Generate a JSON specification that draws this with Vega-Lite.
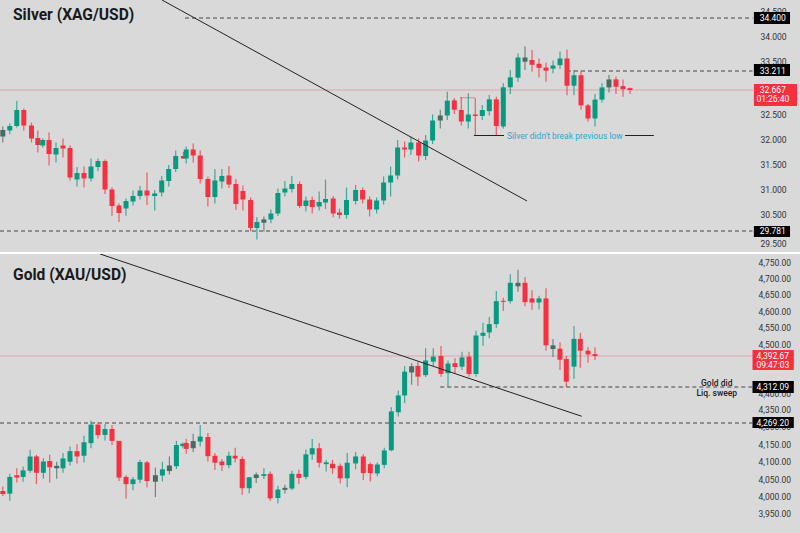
{
  "$schema": "https://vega.github.io/schema/vega-lite/v6.json",
  "padding": 0,
  "spacing": 2,
  "background": "#ffffff",
  "config": {
    "view": {"stroke": null, "fill": "#d9d9d9"},
    "text": {"font": "Roboto"},
    "axisY": {"title": null, "grid": false, "domain": false, "ticks": false}
  },
  "datasets": {
    "silver": [
      {"bar":0.4,"h":32.25,"o":32.18,"c":32.05,"l":31.93,"kind":"mixed"},
      {"bar":1.4,"h":32.31,"o":32.17,"c":32.26,"l":32.10,"kind":"up"},
      {"bar":2.4,"h":32.593,"o":32.26,"c":32.528,"l":32.23,"kind":"up"},
      {"bar":3.4,"h":32.539,"o":32.528,"c":32.27,"l":32.17,"kind":"down"},
      {"bar":4.5,"h":32.33,"o":32.27,"c":32.01,"l":31.93,"kind":"down"},
      {"bar":5.4,"h":32.17,"o":32.02,"c":31.88,"l":31.73,"kind":"down"},
      {"bar":6.1,"h":32.01,"o":31.87,"c":31.98,"l":31.83,"kind":"up"},
      {"bar":7.0,"h":32.13,"o":31.98,"c":31.70,"l":31.47,"kind":"down"},
      {"bar":8.0,"h":31.93,"o":31.69,"c":31.82,"l":31.53,"kind":"up"},
      {"bar":9.0,"h":32.01,"o":31.87,"c":31.81,"l":31.63,"kind":"down"},
      {"bar":10.0,"h":31.87,"o":31.82,"c":31.23,"l":31.17,"kind":"down"},
      {"bar":11.0,"h":31.44,"o":31.19,"c":31.32,"l":31.05,"kind":"up"},
      {"bar":12.0,"h":31.45,"o":31.32,"c":31.21,"l":31.03,"kind":"down"},
      {"bar":13.0,"h":31.61,"o":31.21,"c":31.45,"l":31.15,"kind":"up"},
      {"bar":14.0,"h":31.61,"o":31.44,"c":31.56,"l":31.36,"kind":"up"},
      {"bar":15.0,"h":31.59,"o":31.56,"c":30.99,"l":30.90,"kind":"down"},
      {"bar":16.0,"h":31.03,"o":30.99,"c":30.66,"l":30.43,"kind":"down"},
      {"bar":17.0,"h":30.71,"o":30.67,"c":30.52,"l":30.16,"kind":"down"},
      {"bar":18.0,"h":30.81,"o":30.61,"c":30.76,"l":30.43,"kind":"up"},
      {"bar":19.0,"h":30.97,"o":30.75,"c":30.86,"l":30.67,"kind":"up"},
      {"bar":20.0,"h":31.06,"o":30.86,"c":30.97,"l":30.79,"kind":"up"},
      {"bar":21.0,"h":31.33,"o":30.97,"c":30.87,"l":30.68,"kind":"down"},
      {"bar":22.1,"h":30.98,"o":30.86,"c":30.91,"l":30.57,"kind":"up"},
      {"bar":23.1,"h":31.26,"o":30.93,"c":31.17,"l":30.85,"kind":"up"},
      {"bar":24.1,"h":31.48,"o":31.16,"c":31.40,"l":31.05,"kind":"up"},
      {"bar":25.1,"h":31.77,"o":31.40,"c":31.66,"l":31.34,"kind":"up"},
      {"bar":26.2,"h":31.74,"o":31.66,"c":31.61,"l":31.61,"kind":"down"},
      {"bar":26.6,"h":31.85,"o":31.61,"c":31.79,"l":31.51,"kind":"up"},
      {"bar":27.6,"h":31.91,"o":31.79,"c":31.67,"l":31.53,"kind":"down"},
      {"bar":28.6,"h":31.77,"o":31.67,"c":31.20,"l":31.11,"kind":"down"},
      {"bar":29.7,"h":31.25,"o":31.20,"c":30.84,"l":30.65,"kind":"down"},
      {"bar":30.7,"h":31.40,"o":30.84,"c":31.17,"l":30.71,"kind":"up"},
      {"bar":31.7,"h":31.40,"o":31.15,"c":31.26,"l":31.01,"kind":"up"},
      {"bar":32.7,"h":31.46,"o":31.27,"c":31.09,"l":31.02,"kind":"down"},
      {"bar":33.7,"h":31.20,"o":31.10,"c":30.70,"l":30.58,"kind":"down"},
      {"bar":34.7,"h":31.07,"o":30.96,"c":30.79,"l":30.57,"kind":"down"},
      {"bar":35.8,"h":30.83,"o":30.78,"c":29.91,"l":29.77,"kind":"down"},
      {"bar":36.7,"h":30.37,"o":29.91,"c":30.16,"l":29.58,"kind":"up"},
      {"bar":37.7,"h":30.39,"o":30.13,"c":30.27,"l":29.77,"kind":"mixed"},
      {"bar":38.7,"h":30.59,"o":30.27,"c":30.51,"l":30.11,"kind":"up"},
      {"bar":39.7,"h":31.01,"o":30.51,"c":30.92,"l":30.42,"kind":"up"},
      {"bar":40.7,"h":31.16,"o":30.93,"c":31.01,"l":30.85,"kind":"up"},
      {"bar":41.7,"h":31.26,"o":31.00,"c":31.10,"l":30.93,"kind":"up"},
      {"bar":42.8,"h":31.15,"o":31.10,"c":30.66,"l":30.62,"kind":"down"},
      {"bar":43.7,"h":30.85,"o":30.66,"c":30.77,"l":30.55,"kind":"up"},
      {"bar":44.6,"h":30.85,"o":30.78,"c":30.64,"l":30.51,"kind":"down"},
      {"bar":45.6,"h":30.95,"o":30.65,"c":30.74,"l":30.57,"kind":"up"},
      {"bar":46.5,"h":31.19,"o":30.73,"c":30.80,"l":30.60,"kind":"up"},
      {"bar":47.6,"h":30.86,"o":30.81,"c":30.51,"l":30.36,"kind":"down"},
      {"bar":48.5,"h":30.61,"o":30.53,"c":30.46,"l":30.30,"kind":"down"},
      {"bar":49.5,"h":31.03,"o":30.46,"c":30.78,"l":30.30,"kind":"up"},
      {"bar":50.8,"h":31.08,"o":30.76,"c":30.98,"l":30.69,"kind":"up"},
      {"bar":51.8,"h":31.03,"o":30.98,"c":30.79,"l":30.71,"kind":"down"},
      {"bar":52.8,"h":30.85,"o":30.79,"c":30.59,"l":30.39,"kind":"down"},
      {"bar":53.8,"h":30.83,"o":30.59,"c":30.77,"l":30.51,"kind":"up"},
      {"bar":54.8,"h":31.25,"o":30.77,"c":31.13,"l":30.69,"kind":"up"},
      {"bar":55.8,"h":31.45,"o":31.13,"c":31.27,"l":30.85,"kind":"up"},
      {"bar":56.8,"h":31.98,"o":31.27,"c":31.83,"l":31.19,"kind":"up"},
      {"bar":57.8,"h":31.95,"o":31.83,"c":31.79,"l":31.63,"kind":"down"},
      {"bar":58.7,"h":32.05,"o":31.79,"c":31.93,"l":31.68,"kind":"up"},
      {"bar":59.8,"h":32.01,"o":31.93,"c":31.67,"l":31.55,"kind":"down"},
      {"bar":60.8,"h":32.08,"o":31.66,"c":31.97,"l":31.58,"kind":"up"},
      {"bar":61.8,"h":32.49,"o":31.97,"c":32.37,"l":31.90,"kind":"up"},
      {"bar":62.9,"h":32.53,"o":32.47,"c":32.37,"l":32.21,"kind":"mixed"},
      {"bar":63.9,"h":32.655,"o":32.47,"c":32.593,"l":32.38,"kind":"up"},
      {"bar":64.9,"h":32.609,"o":32.595,"c":32.53,"l":32.50,"kind":"down"},
      {"bar":65.9,"h":32.616,"o":32.528,"c":32.35,"l":32.27,"kind":"down"},
      {"bar":66.9,"h":32.644,"o":32.35,"c":32.49,"l":32.21,"kind":"up"},
      {"bar":67.9,"h":32.609,"o":32.49,"c":32.46,"l":32.08,"kind":"down"},
      {"bar":68.9,"h":32.563,"o":32.46,"c":32.528,"l":32.38,"kind":"up"},
      {"bar":69.9,"h":32.632,"o":32.52,"c":32.602,"l":32.47,"kind":"up"},
      {"bar":70.9,"h":32.62,"o":32.602,"c":32.26,"l":32.08,"kind":"down"},
      {"bar":71.9,"h":32.858,"o":32.25,"c":32.744,"l":32.21,"kind":"up"},
      {"bar":72.9,"h":33.24,"o":32.744,"c":33.03,"l":32.639,"kind":"up"},
      {"bar":74,"h":33.65,"o":33.02,"c":33.57,"l":32.906,"kind":"up"},
      {"bar":75,"h":33.79,"o":33.48,"c":33.57,"l":33.24,"kind":"mixed"},
      {"bar":76,"h":33.72,"o":33.52,"c":33.39,"l":33.19,"kind":"down"},
      {"bar":77,"h":33.55,"o":33.42,"c":33.30,"l":33.03,"kind":"down"},
      {"bar":78,"h":33.45,"o":33.31,"c":33.22,"l":32.90,"kind":"down"},
      {"bar":79,"h":33.51,"o":33.28,"c":33.37,"l":33.15,"kind":"up"},
      {"bar":80,"h":33.69,"o":33.38,"c":33.55,"l":33.27,"kind":"up"},
      {"bar":81,"h":33.73,"o":33.55,"c":32.79,"l":32.63,"kind":"down"},
      {"bar":82,"h":33.24,"o":32.79,"c":33.09,"l":32.63,"kind":"up"},
      {"bar":83,"h":33.22,"o":33.09,"c":32.56,"l":32.53,"kind":"down"},
      {"bar":84,"h":32.57,"o":32.56,"c":32.41,"l":32.35,"kind":"down"},
      {"bar":85,"h":32.64,"o":32.41,"c":32.60,"l":32.25,"kind":"up"},
      {"bar":86,"h":32.86,"o":32.60,"c":32.74,"l":32.58,"kind":"up"},
      {"bar":87,"h":33.10,"o":32.74,"c":32.97,"l":32.65,"kind":"mixed"},
      {"bar":88,"h":33.05,"o":32.97,"c":32.76,"l":32.64,"kind":"down"},
      {"bar":89,"h":32.97,"o":32.78,"c":32.69,"l":32.62,"kind":"down"},
      {"bar":90,"h":32.74,"o":32.72,"c":32.667,"l":32.64,"kind":"down"}
    ],
    "gold": [
      {"bar":0.4,"h":4028,"o":4015,"c":4006,"l":4000,"kind":"down"},
      {"bar":1.4,"h":4065,"o":4007,"c":4056,"l":3986,"kind":"up"},
      {"bar":2.4,"h":4081,"o":4061,"c":4054,"l":4040,"kind":"down"},
      {"bar":3.3,"h":4086,"o":4056,"c":4075,"l":4042,"kind":"up"},
      {"bar":4.3,"h":4152,"o":4074,"c":4123,"l":4068,"kind":"up"},
      {"bar":5.2,"h":4130,"o":4123,"c":4068,"l":4035,"kind":"down"},
      {"bar":6.2,"h":4115,"o":4068,"c":4101,"l":4051,"kind":"up"},
      {"bar":7.1,"h":4130,"o":4103,"c":4084,"l":4040,"kind":"down"},
      {"bar":8.1,"h":4100,"o":4081,"c":4088,"l":4051,"kind":"mixed"},
      {"bar":9.0,"h":4138,"o":4081,"c":4114,"l":4068,"kind":"up"},
      {"bar":10,"h":4167,"o":4100,"c":4146,"l":4089,"kind":"up"},
      {"bar":11,"h":4176,"o":4146,"c":4123,"l":4095,"kind":"down"},
      {"bar":12,"h":4214,"o":4126,"c":4185,"l":4098,"kind":"up"},
      {"bar":13,"h":4272,"o":4181,"c":4262,"l":4159,"kind":"up"},
      {"bar":14,"h":4270,"o":4262,"c":4216,"l":4201,"kind":"down"},
      {"bar":15,"h":4265,"o":4217,"c":4243,"l":4193,"kind":"up"},
      {"bar":16,"h":4260,"o":4243,"c":4191,"l":4173,"kind":"down"},
      {"bar":17,"h":4191,"o":4191,"c":4054,"l":4044,"kind":"down"},
      {"bar":18,"h":4061,"o":4056,"c":4035,"l":3993,"kind":"down"},
      {"bar":19,"h":4056,"o":4035,"c":4049,"l":4017,"kind":"up"},
      {"bar":20,"h":4108,"o":4048,"c":4099,"l":4038,"kind":"up"},
      {"bar":21,"h":4103,"o":4098,"c":4044,"l":4026,"kind":"down"},
      {"bar":22.2,"h":4083,"o":4042,"c":4061,"l":3997,"kind":"mixed"},
      {"bar":23.2,"h":4100,"o":4060,"c":4078,"l":4043,"kind":"up"},
      {"bar":24.2,"h":4123,"o":4073,"c":4089,"l":4063,"kind":"mixed"},
      {"bar":25.2,"h":4191,"o":4087,"c":4173,"l":4079,"kind":"up"},
      {"bar":26.1,"h":4184,"o":4169,"c":4178,"l":4161,"kind":"up"},
      {"bar":26.6,"h":4199,"o":4182,"c":4156,"l":4135,"kind":"down"},
      {"bar":27.6,"h":4222,"o":4159,"c":4190,"l":4142,"kind":"mixed"},
      {"bar":28.6,"h":4260,"o":4188,"c":4210,"l":4167,"kind":"up"},
      {"bar":29.7,"h":4226,"o":4208,"c":4124,"l":4101,"kind":"down"},
      {"bar":30.7,"h":4138,"o":4126,"c":4097,"l":4076,"kind":"down"},
      {"bar":31.7,"h":4112,"o":4101,"c":4090,"l":4073,"kind":"down"},
      {"bar":32.7,"h":4144,"o":4090,"c":4126,"l":4081,"kind":"up"},
      {"bar":33.6,"h":4161,"o":4126,"c":4114,"l":4098,"kind":"down"},
      {"bar":34.6,"h":4123,"o":4112,"c":4023,"l":4004,"kind":"down"},
      {"bar":35.6,"h":4056,"o":4023,"c":4055,"l":4008,"kind":"up"},
      {"bar":36.6,"h":4069,"o":4053,"c":4063,"l":4038,"kind":"mixed"},
      {"bar":37.7,"h":4081,"o":4059,"c":4064,"l":4050,"kind":"up"},
      {"bar":38.6,"h":4072,"o":4065,"c":3993,"l":3986,"kind":"down"},
      {"bar":39.7,"h":4030,"o":3994,"c":4019,"l":3978,"kind":"up"},
      {"bar":40.7,"h":4033,"o":4018,"c":4024,"l":4007,"kind":"mixed"},
      {"bar":41.7,"h":4074,"o":4022,"c":4065,"l":4017,"kind":"up"},
      {"bar":42.7,"h":4077,"o":4065,"c":4053,"l":4035,"kind":"down"},
      {"bar":43.7,"h":4153,"o":4056,"c":4132,"l":4049,"kind":"up"},
      {"bar":44.6,"h":4199,"o":4132,"c":4159,"l":4108,"kind":"up"},
      {"bar":45.6,"h":4182,"o":4159,"c":4097,"l":4083,"kind":"down"},
      {"bar":46.6,"h":4108,"o":4093,"c":4098,"l":4072,"kind":"up"},
      {"bar":47.5,"h":4108,"o":4094,"c":4081,"l":4065,"kind":"down"},
      {"bar":48.6,"h":4095,"o":4088,"c":4052,"l":4037,"kind":"down"},
      {"bar":49.6,"h":4138,"o":4052,"c":4097,"l":4026,"kind":"up"},
      {"bar":50.8,"h":4142,"o":4095,"c":4123,"l":4078,"kind":"up"},
      {"bar":51.9,"h":4133,"o":4123,"c":4067,"l":4047,"kind":"down"},
      {"bar":52.9,"h":4098,"o":4093,"c":4067,"l":4043,"kind":"down"},
      {"bar":53.9,"h":4098,"o":4066,"c":4092,"l":4058,"kind":"up"},
      {"bar":54.9,"h":4161,"o":4091,"c":4149,"l":4081,"kind":"up"},
      {"bar":55.9,"h":4288,"o":4150,"c":4283,"l":4146,"kind":"up"},
      {"bar":56.9,"h":4308,"o":4282,"c":4302,"l":4277,"kind":"up"},
      {"bar":57.8,"h":4367,"o":4302,"c":4352,"l":4293,"kind":"up"},
      {"bar":58.8,"h":4374,"o":4350,"c":4366,"l":4318,"kind":"mixed"},
      {"bar":59.7,"h":4378,"o":4367,"c":4339,"l":4315,"kind":"down"},
      {"bar":60.8,"h":4461,"o":4343,"c":4381,"l":4338,"kind":"up"},
      {"bar":61.9,"h":4461,"o":4378,"c":4391,"l":4367,"kind":"up"},
      {"bar":63,"h":4482,"o":4392.67,"c":4346,"l":4339,"kind":"down"},
      {"bar":64,"h":4381,"o":4348,"c":4373,"l":4312,"kind":"up"},
      {"bar":65,"h":4387,"o":4374,"c":4364,"l":4348,"kind":"down"},
      {"bar":66,"h":4431,"o":4365,"c":4389,"l":4356,"kind":"up"},
      {"bar":67,"h":4431,"o":4391,"c":4346,"l":4339,"kind":"down"},
      {"bar":68,"h":4539,"o":4346,"c":4525,"l":4339,"kind":"up"},
      {"bar":69,"h":4563,"o":4524,"c":4533,"l":4485,"kind":"up"},
      {"bar":69.9,"h":4581,"o":4534,"c":4559,"l":4517,"kind":"up"},
      {"bar":70.9,"h":4659,"o":4559,"c":4629,"l":4548,"kind":"up"},
      {"bar":71.9,"h":4639,"o":4630,"c":4627,"l":4600,"kind":"down"},
      {"bar":72.9,"h":4712,"o":4629,"c":4685,"l":4622,"kind":"up"},
      {"bar":74,"h":4726,"o":4685,"c":4674,"l":4657,"kind":"mixed"},
      {"bar":75,"h":4703,"o":4685,"c":4626,"l":4614,"kind":"down"},
      {"bar":76,"h":4662,"o":4637,"c":4625,"l":4604,"kind":"down"},
      {"bar":77,"h":4645,"o":4625,"c":4637,"l":4605,"kind":"up"},
      {"bar":78,"h":4668,"o":4637,"c":4488,"l":4440,"kind":"down"},
      {"bar":79,"h":4515,"o":4488,"c":4455,"l":4390,"kind":"mixed"},
      {"bar":80,"h":4505,"o":4458,"c":4383,"l":4356,"kind":"down"},
      {"bar":80.9,"h":4393,"o":4385,"c":4326,"l":4312,"kind":"down"},
      {"bar":82,"h":4553,"o":4365,"c":4515,"l":4333,"kind":"up"},
      {"bar":82.9,"h":4532,"o":4515,"c":4440,"l":4362,"kind":"down"},
      {"bar":84,"h":4470,"o":4440,"c":4407,"l":4375,"kind":"down"},
      {"bar":85,"h":4470,"o":4410,"c":4392.67,"l":4382,"kind":"down"}
    ],
    "silverTrend": [
      {"bar":23.14,"price":34.66},
      {"bar":26,"price":34.5},
      {"bar":27.81,"price":34.4},
      {"bar":32.49,"price":34.0},
      {"bar":38.97,"price":33.5},
      {"bar":41.57,"price":33.211},
      {"bar":46.5,"price":32.667},
      {"bar":52.71,"price":32.5},
      {"bar":75.29,"price":30.76}
    ],
    "goldTrend": [
      {"bar":14.29,"price":4774.4},
      {"bar":52.43,"price":4500},
      {"bar":57.53,"price":4392.67},
      {"bar":70.67,"price":4312.09},
      {"bar":83.1,"price":4277.2}
    ],
    "silverLevels": [
      {"bar":26.43,"to":107.5,"price":34.4},
      {"bar":81,"to":107.5,"price":33.211},
      {"bar":0,"to":107.5,"price":29.781}
    ],
    "goldLevels": [
      {"bar":62.9,"to":107.5,"price":4312.09},
      {"bar":0,"to":107.5,"price":4269.2}
    ],
    "silverNow": [{"bar":0,"to":107.5,"price":32.667}],
    "goldNow": [{"bar":0,"to":107.5,"price":4392.67}],
    "silverLow": [
      {"bar":67.7,"to":72,"price":32.07},
      {"bar":89.3,"to":93.4,"price":32.07}
    ],
    "silverBracket": [{"bar":65.7,"to":67.9,"price":32.613}],
    "silverTags": [
      {"bar":107.7,"to":112.86,"top":34.486,"bottom":34.267,"kind":"level"},
      {"bar":107.7,"to":112.86,"top":33.413,"bottom":33.068,"kind":"level"},
      {"bar":107.7,"to":113.86,"top":32.839,"bottom":32.556,"kind":"down"},
      {"bar":107.7,"to":112.86,"top":29.992,"bottom":29.64,"kind":"level"}
    ],
    "goldTags": [
      {"bar":107.5,"to":113.4,"top":4446,"bottom":4356.3,"kind":"down"},
      {"bar":107.5,"to":113.4,"top":4327.7,"bottom":4305,"kind":"level"},
      {"bar":107.5,"to":113.4,"top":4276.4,"bottom":4247.4,"kind":"level"}
    ],
    "silverTagText": [
      {"bar":110.4,"price":34.4,"text":"34.400"},
      {"bar":110.4,"price":33.211,"text":"33.211"},
      {"bar":110.4,"price":32.667,"text":"32.667"},
      {"bar":110.4,"price":32.604,"text":"01:26:40"},
      {"bar":110.4,"price":29.781,"text":"29.781"}
    ],
    "goldTagText": [
      {"bar":110.4,"price":4392.67,"text":"4,392.67"},
      {"bar":110.4,"price":4369,"text":"09:47:03"},
      {"bar":110.4,"price":4312.09,"text":"4,312.09"},
      {"bar":110.4,"price":4269.2,"text":"4,269.20"}
    ],
    "silverName": [{"bar":1.86,"price":34.44,"text":"Silver (XAG/USD)"}],
    "goldName": [{"bar":1.86,"price":4710,"text":"Gold (XAU/USD)"}],
    "silverNote": [{"bar":72.43,"price":32.07,"text":"Silver didn't break previous low"}],
    "goldNote": [
      {"bar":102.4,"price":4322.5,"text":"Gold did"},
      {"bar":102.4,"price":4305,"text":"Liq. sweep"}
    ]
  },
  "vconcat": [
    {
      "width": 800,
      "height": 252,
      "encoding": {
        "x": {"field": "bar", "type": "quantitative", "axis": null, "scale": {"domain": [0, 114.2857], "nice": false, "zero": false, "padding": 0}},
        "y": {
          "field": "price",
          "type": "quantitative",
          "scale": {
            "domain": [29.29, 29.5, 29.781, 30.5, 32.5, 32.667, 33.211, 33.5, 34, 34.4, 34.5, 34.66],
            "range": [252, 243, 231, 214, 114, 90, 71, 61, 36, 18, 11, 0],
            "nice": false,
            "zero": false,
            "padding": 0
          },
          "axis": {
            "orient": "right",
            "values": [34.5, 34, 33.5, 32.5, 32, 31.5, 31, 30.5, 29.5],
            "format": ".3f",
            "offset": -40,
            "labelPadding": 0,
            "labelFont": "Roboto",
            "labelFontSize": 8.5,
            "labelColor": "#333333"
          }
        }
      },
      "layer": [
        {"data": {"name": "silverNow"}, "mark": {"type": "rule", "clip": true, "color": "#f23645", "opacity": 0.55, "strokeWidth": 0.6}, "encoding": {"x2": {"field": "to"}}},
        {"data": {"name": "silverLevels"}, "mark": {"type": "rule", "clip": true, "color": "#444444", "strokeWidth": 1, "strokeDash": [4, 3]}, "encoding": {"x2": {"field": "to"}}},
        {"data": {"name": "silverBracket"}, "mark": {"type": "rule", "clip": true, "color": "#c98b8b", "strokeWidth": 1}, "encoding": {"x2": {"field": "to"}}},
        {
          "data": {"name": "silver"},
          "mark": {"type": "rule", "clip": true, "strokeWidth": 1.2, "opacity": 0.75},
          "encoding": {
            "y": {"field": "h", "type": "quantitative"},
            "y2": {"field": "l"},
            "color": {"field": "kind", "type": "nominal", "legend": null, "scale": {"domain": ["up", "down", "mixed", "level"], "range": ["#089981", "#f7303f", "#4a6b64", "#000000"]}}
          }
        },
        {
          "data": {"name": "silver"},
          "mark": {"type": "bar", "clip": true, "size": 5},
          "encoding": {
            "y": {"field": "o", "type": "quantitative"},
            "y2": {"field": "c"},
            "color": {"field": "kind", "type": "nominal", "legend": null}
          }
        },
        {"data": {"name": "silverTrend"}, "mark": {"type": "line", "clip": true, "color": "#222222", "strokeWidth": 1}},
        {"data": {"name": "silverLow"}, "mark": {"type": "rule", "clip": true, "color": "#222222", "strokeWidth": 1}, "encoding": {"x2": {"field": "to"}}},
        {"data": {"name": "silverNote"}, "mark": {"type": "text", "align": "left", "baseline": "middle", "fontSize": 8.5, "color": "#2aa9d0"}, "encoding": {"text": {"field": "text"}}},
        {"data": {"name": "silverName"}, "mark": {"type": "text", "align": "left", "baseline": "middle", "fontSize": 15.6, "fontWeight": "bold", "color": "#1a1a1a"}, "encoding": {"text": {"field": "text"}}},
        {
          "data": {"name": "silverTags"},
          "mark": {"type": "rect"},
          "encoding": {
            "x2": {"field": "to"},
            "y": {"field": "top", "type": "quantitative"},
            "y2": {"field": "bottom"},
            "color": {"field": "kind", "type": "nominal", "legend": null}
          }
        },
        {"data": {"name": "silverTagText"}, "mark": {"type": "text", "baseline": "middle", "fontSize": 8.5, "color": "#ffffff"}, "encoding": {"text": {"field": "text"}}}
      ]
    },
    {
      "width": 800,
      "height": 279,
      "encoding": {
        "x": {"field": "bar", "type": "quantitative", "axis": null, "scale": {"domain": [0, 114.2857], "nice": false, "zero": false, "padding": 0}},
        "y": {
          "field": "price",
          "type": "quantitative",
          "scale": {
            "domain": [3891, 3950, 4000, 4050, 4100, 4269.2, 4312.09, 4392.67, 4500, 4550, 4600, 4650, 4700, 4750, 4774.4],
            "range": [279, 259, 242, 225, 207.7, 169, 133, 102, 90, 73, 57, 40, 24, 8, 0],
            "nice": false,
            "zero": false,
            "padding": 0
          },
          "axis": {
            "orient": "right",
            "values": [4750, 4700, 4650, 4600, 4550, 4500, 4304, 4285, 4252, 4177, 4100, 4050, 4000, 3950],
            "labelExpr": "datum.value == 4304 ? '4,400.00' : datum.value == 4285 ? '4,350.00' : datum.value == 4252 ? '4,300.00' : datum.value == 4177 ? '4,150.00' : format(datum.value, ',.2f')",
            "offset": -42,
            "labelPadding": 0,
            "labelFont": "Roboto",
            "labelFontSize": 8.5,
            "labelColor": "#333333"
          }
        }
      },
      "layer": [
        {"data": {"name": "goldNow"}, "mark": {"type": "rule", "clip": true, "color": "#f23645", "opacity": 0.55, "strokeWidth": 0.6}, "encoding": {"x2": {"field": "to"}}},
        {"data": {"name": "goldLevels"}, "mark": {"type": "rule", "clip": true, "color": "#444444", "strokeWidth": 1, "strokeDash": [4, 3]}, "encoding": {"x2": {"field": "to"}}},
        {
          "data": {"name": "gold"},
          "mark": {"type": "rule", "clip": true, "strokeWidth": 1.2, "opacity": 0.75},
          "encoding": {
            "y": {"field": "h", "type": "quantitative"},
            "y2": {"field": "l"},
            "color": {"field": "kind", "type": "nominal", "legend": null, "scale": {"domain": ["up", "down", "mixed", "level"], "range": ["#089981", "#f7303f", "#4a6b64", "#000000"]}}
          }
        },
        {
          "data": {"name": "gold"},
          "mark": {"type": "bar", "clip": true, "size": 5},
          "encoding": {
            "y": {"field": "o", "type": "quantitative"},
            "y2": {"field": "c"},
            "color": {"field": "kind", "type": "nominal", "legend": null}
          }
        },
        {"data": {"name": "goldTrend"}, "mark": {"type": "line", "clip": true, "color": "#222222", "strokeWidth": 1}},
        {"data": {"name": "goldNote"}, "mark": {"type": "text", "baseline": "middle", "fontSize": 8.5, "fontWeight": 500, "color": "#222222"}, "encoding": {"text": {"field": "text"}}},
        {"data": {"name": "goldName"}, "mark": {"type": "text", "align": "left", "baseline": "middle", "fontSize": 15.6, "fontWeight": "bold", "color": "#1a1a1a"}, "encoding": {"text": {"field": "text"}}},
        {
          "data": {"name": "goldTags"},
          "mark": {"type": "rect"},
          "encoding": {
            "x2": {"field": "to"},
            "y": {"field": "top", "type": "quantitative"},
            "y2": {"field": "bottom"},
            "color": {"field": "kind", "type": "nominal", "legend": null}
          }
        },
        {"data": {"name": "goldTagText"}, "mark": {"type": "text", "baseline": "middle", "fontSize": 8.5, "color": "#ffffff"}, "encoding": {"text": {"field": "text"}}}
      ]
    }
  ]
}
